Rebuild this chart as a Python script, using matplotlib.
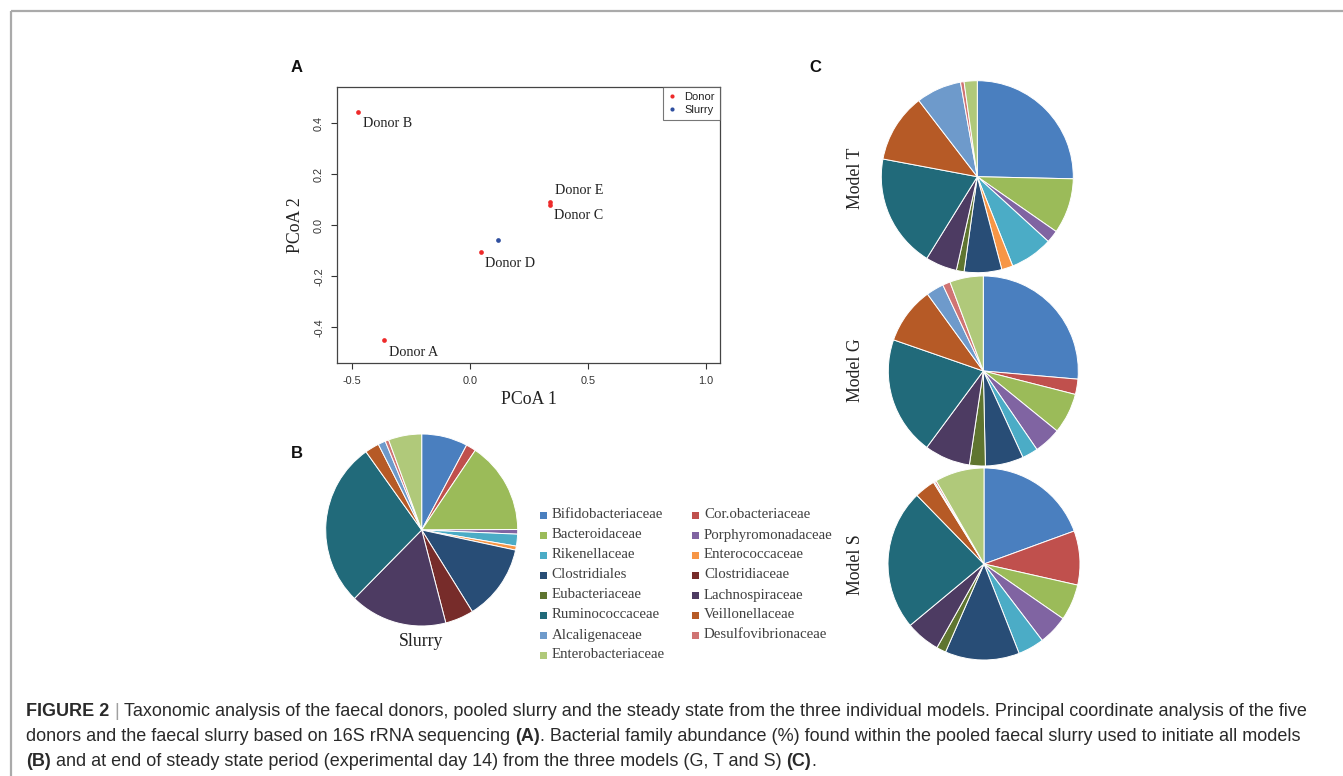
import matplotlib
matplotlib.use('Agg')
import matplotlib.pyplot as plt
from matplotlib.patches import Rectangle
from matplotlib.lines import Line2D

W, H = 1343, 776

# ---------------- data ----------------
families = ['Bifidobacteriaceae', 'Cor.obacteriaceae', 'Bacteroidaceae', 'Porphyromonadaceae',
            'Rikenellaceae', 'Enterococcaceae', 'Clostridiales', 'Clostridiaceae',
            'Eubacteriaceae', 'Lachnospiraceae', 'Ruminococcaceae', 'Veillonellaceae',
            'Alcaligenaceae', 'Desulfovibrionaceae', 'Enterobacteriaceae']
family_colors = ['#4A7FBF', '#C0504D', '#9BBB59', '#8064A2', '#4BACC6', '#F79646',
                 '#284D76', '#772C2A', '#5F7530', '#4D3B62', '#216A7A', '#B65A26',
                 '#6E9ACB', '#D07473', '#B0C97A']

slurry_pct  = [7.75, 1.67, 15.5, 0.78, 2.0, 0.67, 12.8, 4.8, 0.0, 16.4, 27.8, 2.4, 1.25, 0.6, 5.6]
model_t_pct = [25.3, 0.0, 9.3, 2.1, 7.2, 1.9, 6.3, 0.0, 1.3, 5.3, 19.1, 11.6, 7.6, 0.6, 2.2]
model_g_pct = [26.4, 2.6, 6.9, 4.6, 2.7, 0.0, 6.5, 0.0, 2.7, 7.8, 20.2, 9.7, 3.0, 1.3, 5.7]
model_s_pct = [19.4, 9.1, 6.1, 5.0, 4.4, 0.0, 12.5, 0.0, 1.6, 5.8, 23.7, 3.5, 0.2, 0.3, 8.3]

donor_names = ['Donor A', 'Donor B', 'Donor C', 'Donor D', 'Donor E']
donor_pc1 = [-0.366, -0.473, 0.338, 0.048, 0.340]
donor_pc2 = [-0.450, 0.445, 0.081, -0.106, 0.090]
slurry_pc1 = [0.120]
slurry_pc2 = [-0.059]

xticks = [-0.5, 0.0, 0.5, 1.0]
xtick_labels = ['-0.5', '0.0', '0.5', '1.0']
yticks = [-0.4, -0.2, 0.0, 0.2, 0.4]
ytick_labels = ['-0.4', '-0.2', '0.0', '0.2', '0.4']

caption_lines = [
    [('FIGURE 2', 'bold'), ('|', 'sep'),
     ('Taxonomic analysis of the faecal donors, pooled slurry and the steady state from the three individual models. Principal coordinate analysis of the five', 'normal')],
    [('donors and the faecal slurry based on 16S rRNA sequencing', 'normal'), ('(A)', 'bold'),
     ('. Bacterial family abundance (%) found within the pooled faecal slurry used to initiate all models', 'normal')],
    [('(B)', 'bold'), ('and at end of steady state period (experimental day 14) from the three models (G, T and S)', 'normal'),
     ('(C)', 'bold'), ('.', 'normal')],
]

# ---------------- style ----------------
SERIF = 'Liberation Serif'
SANS = 'Liberation Sans'
RED = '#EE2A2A'
BLUE = '#2F4F9F'
label_offsets = {'Donor A': (5, -12), 'Donor B': (5, -12), 'Donor C': (4, -11),
                 'Donor D': (4, -11), 'Donor E': (5, 12)}

fig = plt.figure(figsize=(W / 100, H / 100), dpi=100)


def px_rect(l, t, w, h):
    return [l / W, 1 - (t + h) / H, w / W, h / H]


# overlay in pixel coordinates
ov = fig.add_axes([0, 0, 1, 1])
ov.set_xlim(0, W)
ov.set_ylim(H, 0)
ov.axis('off')

ov.plot([11, W], [11, 11], color='#AAAAAA', lw=1.6, solid_capstyle='butt')
ov.plot([11, 11], [11, H], color='#AAAAAA', lw=1.6, solid_capstyle='butt')

# ---------------- panel A ----------------
ax = fig.add_axes(px_rect(337, 87, 383, 276))
ax.set_xlim(-0.564, 1.059)
ax.set_ylim(-0.540, 0.542)
ax.plot(donor_pc1, donor_pc2, 'o', color=RED, ms=3.4, mew=0)
ax.plot(slurry_pc1, slurry_pc2, 'o', color=BLUE, ms=3.4, mew=0)
for name, x, y in zip(donor_names, donor_pc1, donor_pc2):
    dx, dy = label_offsets[name]
    ax.annotate(name, (x, y), xytext=(dx, dy), textcoords='offset pixels',
                ha='left', va='center', fontfamily=SERIF, fontsize=10.2, color='#222222')
ax.set_xticks(xticks)
ax.set_xticklabels(xtick_labels)
ax.set_yticks(yticks)
ax.set_yticklabels(ytick_labels, rotation=90, va='center')
ax.tick_params(direction='out', length=4.3, width=0.8, colors='#333333', labelsize=7.8)
ax.tick_params(axis='x', pad=5)
ax.tick_params(axis='y', pad=5)
for lab in ax.get_xticklabels() + ax.get_yticklabels():
    lab.set_fontfamily(SANS)
for sp in ax.spines.values():
    sp.set_color('#444444')
    sp.set_linewidth(0.9)
ax.set_xlabel('PCoA 1', fontfamily=SERIF, fontsize=12.8, color='#222222')
ax.set_ylabel('PCoA 2', fontfamily=SERIF, fontsize=12.8, color='#222222')
ax.xaxis.label.set_va('center')
ax.yaxis.label.set_va('center')
ax.xaxis.set_label_coords(0.5, -37 / 276)
ax.yaxis.set_label_coords(-42 / 383, 0.5)
leg = ax.legend(handles=[Line2D([], [], marker='o', ls='', color=RED, ms=3, mew=0, label='Donor'),
                         Line2D([], [], marker='o', ls='', color=BLUE, ms=3, mew=0, label='Slurry')],
                loc='upper right', fancybox=False, frameon=True, borderaxespad=0,
                prop={'family': SANS, 'size': 8}, handlelength=0.8, handletextpad=0.7,
                borderpad=0.45, labelspacing=0.25)
leg.get_frame().set_edgecolor('#555555')
leg.get_frame().set_linewidth(0.8)
for t in leg.get_texts():
    t.set_color('#222222')

# ---------------- pies ----------------
def draw_pie(values, cx, cy, r):
    pa = fig.add_axes(px_rect(cx - r, cy - r, 2 * r, 2 * r))
    vals = [v for v in values if v > 0]
    cols = [c for v, c in zip(values, family_colors) if v > 0]
    pa.pie(vals, colors=cols, startangle=90, counterclock=False, radius=1,
           wedgeprops=dict(edgecolor='white', linewidth=0.7))
    pa.set_xlim(-1, 1)
    pa.set_ylim(-1, 1)
    pa.set_aspect('equal')
    pa.axis('off')
    return pa


draw_pie(slurry_pct, 421.7, 530, 96)
draw_pie(model_t_pct, 977.3, 176.7, 96)
draw_pie(model_g_pct, 983.3, 371, 95)
draw_pie(model_s_pct, 984, 564, 96)

ov.text(421, 642, 'Slurry', ha='center', va='center', fontfamily=SERIF, fontsize=12.8, color='#222222')
for lab, yy in [('Model T', 178), ('Model G', 370), ('Model S', 565)]:
    ov.text(855, yy, lab, ha='center', va='center', rotation=90, fontfamily=SERIF,
            fontsize=12.8, color='#222222')

# legend of families (row-wise, two columns)
for i, (name, col) in enumerate(zip(families, family_colors)):
    c, rrow = i % 2, i // 2
    sx = 540 + c * 152.3
    yy = 515 + rrow * 20
    ov.add_patch(Rectangle((sx, yy - 3.5), 7, 7, facecolor=col, edgecolor='none'))
    ov.text(sx + 11.7, yy, name, ha='left', va='center', fontfamily=SERIF, fontsize=10.7,
            color='#404040')

# panel letters
for lab, x, y in [('A', 296.5, 67.5), ('B', 297, 454), ('C', 815, 68)]:
    ov.text(x, y, lab, ha='center', va='center', fontfamily=SANS, fontweight='bold',
            fontsize=12, color='#111111')

# ---------------- caption ----------------
renderer = fig.canvas.get_renderer()


def text_width(s, size, weight):
    t = ov.text(0, 0, s, fontfamily=SANS, fontsize=size, fontweight=weight)
    w = t.get_window_extent(renderer).width
    t.remove()
    return w


def line_width(pieces, size):
    sp = text_width('a a', size, 'normal') - text_width('aa', size, 'normal')
    total = 0
    for k, (s, kind) in enumerate(pieces):
        wgt = 'bold' if kind == 'bold' else 'normal'
        total += text_width(s, size, wgt)
        if k < len(pieces) - 1 and not pieces[k + 1][0].startswith('.'):
            total += sp
    return total


base = 12
w1 = line_width(caption_lines[0], base)
cap_size = base * (1310 - 26) / w1

line_y = [711.5, 736.5, 761.5]
sp = text_width('a a', cap_size, 'normal') - text_width('aa', cap_size, 'normal')
for pieces, yy in zip(caption_lines, line_y):
    x = 26
    for k, (s, kind) in enumerate(pieces):
        wgt = 'bold' if kind == 'bold' else 'normal'
        color = '#A0A0A0' if kind == 'sep' else '#2A2A2A'
        t = ov.text(x, yy, s, ha='left', va='center', fontfamily=SANS, fontsize=cap_size,
                    fontweight=wgt, color=color)
        x += t.get_window_extent(renderer).width
        if k < len(pieces) - 1 and not pieces[k + 1][0].startswith('.'):
            x += sp

fig.savefig('out.png', dpi=100)
